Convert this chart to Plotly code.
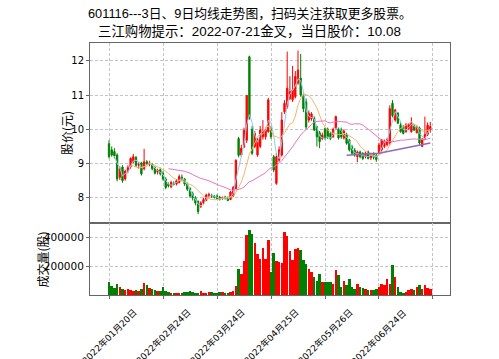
import plotly.graph_objects as go
import pandas as pd

# ---------------- data ----------------
tick_idx = [0, 20, 40, 60, 80, 100, 120]
tick_labels = ["2022年01月20日", "2022年02月24日", "2022年03月24日",
               "2022年04月25日", "2022年05月26日", "2022年06月24日", ""]

opens = [9.58, 9.40, 9.35, 9.25, 8.60, 8.90, 8.55, 8.80, 8.90, 9.05,
         9.18, 8.95, 9.02, 8.85, 9.05, 8.98, 8.98, 8.88, 8.75, 8.82,
         8.72, 8.55, 8.40, 8.32, 8.42, 8.40, 8.45, 8.60, 8.55, 8.40,
         8.28, 8.12, 8.00, 7.90, 7.75, 7.85, 7.92, 8.05, 8.08, 8.05,
         8.05, 8.02, 7.98, 8.02, 8.00, 7.95, 8.05, 8.27, 9.73, 9.25,
         9.48, 9.68, 12.12, 10.00, 9.50, 9.25, 9.50, 9.78, 9.78, 9.93,
         9.98, 9.20, 8.42, 9.10, 9.25, 10.51, 10.66, 10.90, 10.86, 10.95,
         11.35, 11.49, 10.99, 10.80, 10.27, 10.30, 10.32, 10.08, 9.90, 9.73,
         10.02, 10.00, 9.88, 9.78, 10.03, 10.00, 9.98, 9.75, 9.85, 9.69,
         9.49, 9.39, 9.20, 9.34, 9.30, 9.20, 9.34, 9.17, 9.30, 9.25,
         9.30, 9.40, 9.50, 9.55, 9.60, 10.76, 10.27, 10.47, 10.13, 10.08,
         9.93, 10.02, 9.93, 10.10, 9.90, 10.04, 9.50, 9.70, 9.85, 9.98]
highs = [9.68, 9.50, 9.45, 9.30, 8.92, 8.95, 8.82, 8.95, 9.18, 9.28,
         9.22, 9.05, 9.05, 9.43, 9.10, 9.08, 9.02, 8.92, 8.85, 8.88,
         8.78, 8.60, 8.45, 8.50, 8.48, 8.55, 8.68, 8.68, 8.58, 8.45,
         8.30, 8.18, 8.05, 7.92, 7.90, 8.00, 8.12, 8.15, 8.12, 8.08,
         8.10, 8.06, 8.04, 8.06, 8.04, 8.20, 8.35, 9.12, 9.78, 9.55,
         10.05, 11.00, 12.15, 10.10, 9.95, 9.75, 10.10, 10.27, 10.05, 10.92,
         10.10, 9.25, 9.30, 9.50, 10.50, 10.85, 12.27, 11.55, 11.85, 11.70,
         12.30, 12.20, 11.05, 10.90, 10.55, 10.50, 10.38, 10.10, 9.95, 9.90,
         10.05, 10.05, 9.92, 10.05, 10.40, 10.05, 10.05, 10.00, 9.90, 9.72,
         9.55, 9.45, 9.38, 9.38, 9.33, 9.35, 9.38, 9.32, 9.33, 9.28,
         9.60, 9.72, 9.70, 9.75, 10.70, 10.85, 10.60, 10.50, 10.20, 10.12,
         10.18, 10.18, 10.35, 10.15, 10.12, 10.08, 9.75, 10.37, 10.20, 10.22]
lows = [9.15, 9.20, 9.15, 8.48, 8.52, 8.44, 8.50, 8.72, 8.85, 9.00,
        8.90, 8.85, 8.65, 8.80, 8.95, 8.92, 8.80, 8.68, 8.68, 8.65,
        8.50, 8.25, 8.30, 8.28, 8.36, 8.36, 8.42, 8.50, 8.35, 8.20,
        8.00, 7.92, 7.78, 7.52, 7.70, 7.80, 7.90, 8.00, 8.00, 7.98,
        7.95, 7.92, 7.94, 7.95, 7.90, 7.93, 8.02, 8.25, 9.18, 9.20,
        9.45, 9.60, 10.28, 9.25, 9.45, 9.20, 9.45, 9.70, 9.70, 9.90,
        9.72, 8.75, 8.38, 9.05, 9.20, 10.45, 10.60, 10.85, 10.80, 10.90,
        11.30, 10.95, 10.50, 10.00, 10.20, 10.25, 9.95, 9.50, 9.45, 9.68,
        9.70, 9.72, 9.68, 9.75, 9.98, 9.70, 9.72, 9.70, 9.55, 9.35,
        9.25, 9.20, 9.04, 9.15, 9.10, 9.15, 9.12, 9.10, 9.12, 9.05,
        9.25, 9.35, 9.45, 9.50, 9.55, 10.35, 10.22, 10.15, 9.90, 9.85,
        9.90, 9.98, 9.90, 9.95, 9.88, 9.55, 9.48, 9.68, 9.80, 9.90]
closes = [9.20, 9.25, 9.22, 8.55, 8.85, 8.50, 8.78, 8.88, 9.15, 9.20,
          8.95, 8.98, 8.70, 9.05, 9.00, 9.02, 8.85, 8.72, 8.80, 8.70,
          8.55, 8.30, 8.35, 8.45, 8.40, 8.50, 8.62, 8.55, 8.40, 8.25,
          8.05, 8.00, 7.85, 7.60, 7.85, 7.95, 8.08, 8.10, 8.05, 8.02,
          7.98, 7.95, 8.00, 7.98, 7.92, 8.17, 8.30, 9.10, 9.24, 9.45,
          9.97, 10.99, 10.32, 9.30, 9.88, 9.69, 9.98, 9.93, 9.98, 10.86,
          9.78, 8.81, 9.20, 9.40, 10.27, 10.76, 11.20, 11.10, 11.15, 11.54,
          11.73, 11.00, 10.60, 10.07, 10.47, 10.45, 9.98, 9.78, 9.64, 9.83,
          9.73, 9.78, 9.73, 10.00, 10.37, 9.75, 9.78, 9.95, 9.59, 9.40,
          9.30, 9.25, 9.34, 9.20, 9.15, 9.30, 9.15, 9.28, 9.18, 9.12,
          9.54, 9.69, 9.65, 9.70, 10.60, 10.40, 10.56, 10.18, 9.93, 9.88,
          10.13, 10.13, 10.17, 9.98, 10.08, 9.60, 9.69, 9.85, 10.12, 10.08]
volumes = [90000, 65000, 50000, 78000, 55000, 45000, 35000, 42000, 35000, 30000,
           38000, 32000, 40000, 88000, 70000, 50000, 45000, 35000, 30000, 32000,
           58000, 32000, 20000, 15000, 14000, 18000, 16000, 14000, 22000, 25000,
           28000, 24000, 15000, 16000, 26000, 18000, 16000, 22000, 20000, 18000,
           16000, 22000, 20000, 15000, 18000, 20000, 28000, 65000, 184000, 149000,
           237000, 416000, 456000, 428000, 362000, 288000, 254000, 330000, 254000, 386000,
           160000, 292000, 237000, 230000, 225000, 436000, 410000, 309000, 245000, 320000,
           325000, 311000, 242000, 219000, 184000, 160000, 125000, 102000, 149000, 95000,
           95000, 90000, 95000, 79000, 172000, 137000, 56000, 102000, 68000, 114000,
           56000, 44000, 79000, 56000, 50000, 44000, 33000, 38000, 33000, 40000,
           56000, 79000, 72000, 114000, 79000, 212000, 125000, 56000, 21000, 18000,
           25000, 33000, 44000, 33000, 56000, 72000, 40000, 72000, 50000, 40000]
trend_idx = [88, 100, 119]
trend_price = [9.24, 9.30, 9.60]

title_line1 = "601116---3日、9日均线走势图，扫码关注获取更多股票。"
title_line2 = "三江购物提示：2022-07-21金叉，当日股价：10.08"

# ---------------- derived ----------------
idx = list(range(len(closes)))
s = pd.Series(closes)
ma3 = s.rolling(3).mean()
ma9 = s.rolling(9).mean()
ma30 = s.rolling(30, min_periods=23).mean()
UP, DOWN = "#ff0000", "#008000"
vol_colors = [UP if c >= o else DOWN for o, c in zip(opens, closes)]

FONT = "DejaVu Sans, Noto Sans CJK SC, sans-serif"
TFONT = "Liberation Sans, Noto Sans CJK SC, sans-serif"
CJK = "Noto Sans CJK SC, sans-serif"

fig = go.Figure()
fig.add_trace(go.Candlestick(
    x=idx, open=opens, high=highs, low=lows, close=closes,
    increasing=dict(line=dict(color=UP, width=1), fillcolor=UP),
    decreasing=dict(line=dict(color=DOWN, width=1), fillcolor=DOWN),
    whiskerwidth=0, xaxis="x", yaxis="y", showlegend=False, hoverinfo="skip"))
fig.add_trace(go.Scatter(x=idx, y=ma3, mode="lines", line=dict(color="#8ccfe8", width=1),
                         xaxis="x", yaxis="y", showlegend=False))
fig.add_trace(go.Scatter(x=idx, y=ma9, mode="lines", line=dict(color="#f5b56e", width=1),
                         xaxis="x", yaxis="y", showlegend=False))
fig.add_trace(go.Scatter(x=idx, y=ma30, mode="lines", line=dict(color="#e377c2", width=1),
                         xaxis="x", yaxis="y", showlegend=False))
fig.add_trace(go.Scatter(x=trend_idx, y=trend_price, mode="lines",
                         line=dict(color="#9467bd", width=1.5),
                         xaxis="x", yaxis="y", showlegend=False))
fig.add_trace(go.Bar(x=idx, y=volumes, marker=dict(color=vol_colors, line=dict(width=0)),
                     width=0.9, xaxis="x2", yaxis="y2", showlegend=False))

XR = [-7.04, 126.3]
grid = dict(showgrid=True, gridcolor="#c4c4c4", griddash="3px,2px", gridwidth=1)
box = dict(showline=True, mirror=True, linecolor="#666666", linewidth=1, zeroline=False)

fig.update_layout(
    width=499, height=359,
    margin=dict(l=90, r=49, t=43, b=64),
    paper_bgcolor="white", plot_bgcolor="white",
    font=dict(family=FONT, size=10, color="#000"),
    bargap=0,
    xaxis=dict(domain=[0, 1], anchor="y", range=XR, tickvals=tick_idx,
               showticklabels=False, ticks="", rangeslider=dict(visible=False),
               **grid, **box),
    yaxis=dict(domain=[0.2865, 1], anchor="x", range=[7.27, 12.52],
               tickvals=[8, 9, 10, 11, 12], ticks="outside", ticklen=3,
               tickcolor="#666", tickfont=dict(size=10, family=FONT), **grid, **box),
    xaxis2=dict(domain=[0, 1], anchor="y2", range=XR, tickvals=tick_idx,
                showticklabels=False, ticks="outside", ticklen=3, tickcolor="#666",
                **grid, **box),
    yaxis2=dict(domain=[0, 0.2865], anchor="x2", range=[0, 502000],
                tickvals=[200000, 400000], ticktext=["200000", "400000"],
                ticks="outside", ticklen=3, tickcolor="#666",
                tickfont=dict(size=10.5, family=FONT), **grid, **box),
)

TITLE_X = (249.5 - 90) / 360.0
ann = []
ann.append(dict(text=title_line1, xref="paper", yref="paper", x=TITLE_X, y=1,
                xanchor="center", yanchor="middle", yshift=29.5, showarrow=False,
                font=dict(family=TFONT, size=12.8, color="#000")))
ann.append(dict(text=title_line2, xref="paper", yref="paper", x=TITLE_X, y=1,
                xanchor="center", yanchor="middle", yshift=11.5, showarrow=False,
                font=dict(family=TFONT, size=13.4, color="#000")))
ann.append(dict(text="股价(元)", xref="paper", yref="paper", x=-0.0640, y=0.6429,
                xanchor="center", yanchor="middle", textangle=-90, showarrow=False,
                font=dict(family=CJK, size=12, color="#000")))
ann.append(dict(text="成交量(股)", xref="paper", yref="paper", x=-0.1319, y=0.139,
                xanchor="center", yanchor="middle", textangle=-90, showarrow=False,
                font=dict(family=CJK, size=12, color="#000")))
for tv, tl in zip(tick_idx, tick_labels):
    if tl:
        ann.append(dict(text=tl, xref="x2", yref="paper", x=tv, y=0,
                        xanchor="center", yanchor="top", yshift=-9, textangle=-45,
                        showarrow=False, font=dict(family=FONT, size=9, color="#000")))
fig.update_layout(annotations=ann)

fig.write_html("out.html", config={"displayModeBar": False},
               post_script="document.body.style.margin='0px';document.body.style.padding='0px';")
